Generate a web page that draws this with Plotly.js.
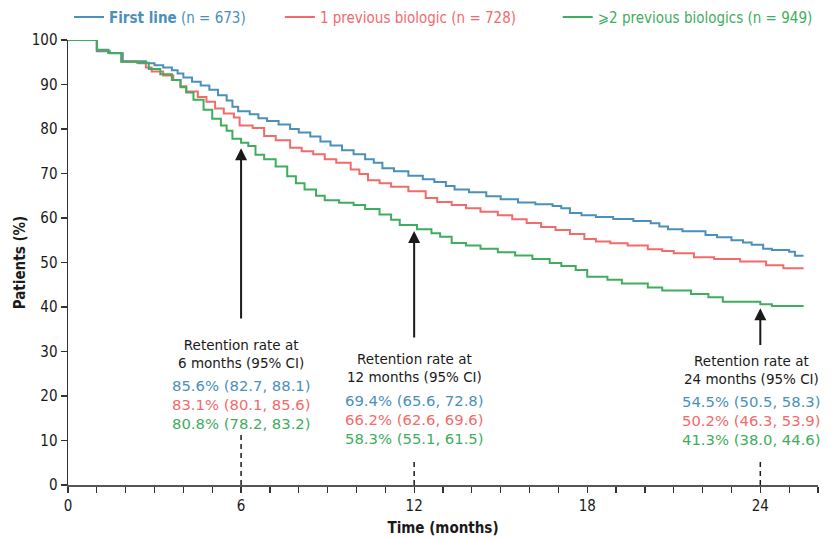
<!DOCTYPE html>
<html>
<head>
<meta charset="utf-8">
<script src="https://cdn.plot.ly/plotly-3.0.1.min.js"></script>
<style>html,body{margin:0;padding:0;background:#fff}#chart{width:840px;height:539px}</style>
</head>
<body>
<div id="chart"></div>
<script>
// Kaplan-Meier style retention curves (months, % retained)
const firstLineTime = [0,1.0,1.45,1.9,2.7,3.0,3.3,3.6,3.8,4.0,4.3,4.6,4.9,5.2,5.5,5.7,5.9,6.3,6.6,6.9,7.3,7.7,8.0,8.4,8.75,9.1,9.5,9.9,10.3,10.6,10.9,11.3,11.8,12.3,12.7,13.1,13.4,13.9,14.5,15.0,15.6,16.2,16.8,17.1,17.4,17.8,18.3,18.9,19.6,20.2,20.5,20.8,21.3,22.1,22.5,23.0,23.4,23.7,24.1,24.4,25.0,25.2,25.5];
const firstLineRate = [100,97.5,97.0,95.2,94.8,94.3,93.8,93.2,92.5,91.6,90.6,89.8,88.8,87.6,86.4,85.0,84.0,83.3,82.4,81.8,81.0,80.0,79.2,78.3,77.2,76.3,75.2,74.3,73.2,72.4,71.2,70.5,69.5,68.7,68.1,67.2,66.4,65.8,64.9,64.2,63.5,63.1,62.7,62.2,61.1,60.6,60.2,59.8,59.3,58.8,58.1,57.5,57.0,56.2,55.7,55.0,54.5,54.0,53.1,52.8,52.4,51.5,51.5];

const oneBioTime = [0,1.0,1.4,1.85,2.45,2.7,2.9,3.3,3.65,3.9,4.1,4.5,4.8,5.1,5.4,5.75,5.95,6.4,6.8,7.2,7.7,8.1,8.5,8.9,9.3,9.8,10.1,10.4,10.8,11.2,11.8,12.4,12.8,13.3,13.8,14.3,14.9,15.4,15.9,16.4,16.9,17.4,17.9,18.3,18.8,19.4,20.1,20.6,21.0,21.7,22.4,23.3,24.2,24.8,25.5];
const oneBioRate = [100,97.7,97.1,95.1,94.8,93.8,92.9,92.0,91.0,89.6,88.4,87.2,86.1,84.6,83.5,82.6,80.8,80.2,78.4,77.5,75.8,75.0,74.3,73.2,72.4,70.9,69.9,68.5,67.8,67.0,66.0,64.5,63.6,62.9,62.2,61.4,60.6,59.7,58.9,58.0,57.3,56.4,55.3,54.7,54.3,53.8,53.0,52.6,52.1,51.2,50.8,50.2,49.4,48.7,48.7];

const twoBioTime = [0,1.0,1.4,1.85,2.4,2.8,3.2,3.6,3.9,4.1,4.35,4.7,5.0,5.3,5.5,5.7,6.0,6.25,6.5,6.8,7.2,7.6,7.9,8.2,8.6,8.9,9.4,9.9,10.3,10.8,11.2,11.5,12.1,12.6,12.9,13.3,13.8,14.3,14.9,15.5,16.1,16.7,17.1,17.6,18.0,18.7,19.2,20.1,20.6,21.6,22.2,22.7,24.0,24.4,25.5];
const twoBioRate = [100,97.8,97.1,95.1,94.9,93.5,92.3,91.0,89.4,88.2,86.6,84.3,82.3,80.8,79.6,77.8,76.9,76.2,74.2,73.2,71.6,69.4,67.8,66.4,65.0,64.0,63.4,62.9,62.0,60.8,59.6,58.4,57.5,56.6,55.8,54.4,53.8,53.1,52.3,51.6,50.8,49.9,49.2,48.3,46.8,46.1,45.3,44.4,43.7,42.9,42.2,41.2,40.6,40.2,40.2];

const seriesLabels = ['<b>First line</b> (n = 673)', '1 previous biologic (n = 728)', '\u2a7e2 previous biologics (n = 949)'];
const seriesColors = ['#4a90bb', '#f36a6b', '#3fad5e'];

// Retention annotations
const milestoneMonths = [6, 12, 24];
const milestoneLabels = ['Retention rate at<br>6 months (95% CI)', 'Retention rate at<br>12 months (95% CI)', 'Retention rate at<br>24 months (95% CI)'];
const firstLineCI = ['85.6% (82.7, 88.1)', '69.4% (65.6, 72.8)', '54.5% (50.5, 58.3)'];
const oneBioCI = ['83.1% (80.1, 85.6)', '66.2% (62.6, 69.6)', '50.2% (46.3, 53.9)'];
const twoBioCI = ['80.8% (78.2, 83.2)', '58.3% (55.1, 61.5)', '41.3% (38.0, 44.6)'];

// layout placement of the annotation blocks (data units) and legend entries (paper units)
const labelX = [6, 12, 23.7];
const headerY = [29.4, 26.4, 25.75];
const ciY = [18.0, 14.8, 14.5];
const arrowTip = [75.7, 57.1, 39.7];
const arrowTail = [37.1, 32.8, 31.1];
const dashTop = [11.9, 5.3, 5.3];
const legendX = [0.0013, 0.2825, 0.653];
const legendIds = ['legend', 'legend2', 'legend3'];

const xTickVals = [0, 6, 12, 18, 24];
const xTickText = ['0', '6', '12', '18', '24'];

const narrow = '"DejaVu Sans Condensed", "Liberation Sans Narrow", sans-serif';
const human = '"DejaVu Sans", sans-serif';

const times = [firstLineTime, oneBioTime, twoBioTime];
const rates = [firstLineRate, oneBioRate, twoBioRate];

const traces = times.map((t, i) => ({
  x: t, y: rates[i], type: 'scatter', mode: 'lines',
  line: {shape: 'hv', color: seriesColors[i], width: 2},
  name: '<span style="color:' + seriesColors[i] + '">' + seriesLabels[i] + '</span>',
  legend: legendIds[i]
}));

const annotations = [];
const shapes = [];
milestoneMonths.forEach((m, i) => {
  annotations.push({x: labelX[i], y: headerY[i], xref: 'x', yref: 'y', text: milestoneLabels[i],
    showarrow: false, font: {family: human, size: 13.5, color: '#1a1a1a'}, align: 'center', yanchor: 'middle'});
  const ciText = '<span style="color:' + seriesColors[0] + '">' + firstLineCI[i] + '</span><br>' +
                 '<span style="color:' + seriesColors[1] + '">' + oneBioCI[i] + '</span><br>' +
                 '<span style="color:' + seriesColors[2] + '">' + twoBioCI[i] + '</span>';
  annotations.push({x: labelX[i], y: ciY[i], xref: 'x', yref: 'y', text: ciText,
    showarrow: false, font: {family: human, size: 14.8}, align: 'center', yanchor: 'middle'});
  annotations.push({x: m, y: arrowTip[i], xref: 'x', yref: 'y', ax: m, ay: arrowTail[i], axref: 'x', ayref: 'y',
    text: '', showarrow: true, arrowhead: 2, arrowsize: 1.2, arrowwidth: 2, arrowcolor: '#1a1a1a', standoff: 0});
  shapes.push({type: 'line', xref: 'x', yref: 'y', x0: m, x1: m, y0: 0, y1: dashTop[i],
    line: {color: '#1a1a1a', width: 1.5, dash: '5px,4px'}});
});

const layout = {
  width: 840, height: 539,
  margin: {l: 68, r: 22, t: 40, b: 54, autoexpand: false},
  paper_bgcolor: '#fff', plot_bgcolor: '#fff',
  showlegend: true,
  xaxis: {range: [0, 26], tickvals: xTickVals, ticktext: xTickText, ticks: 'outside', ticklen: 6, tickwidth: 1.2, tickcolor: '#333',
    minor: {dtick: 1, ticks: 'outside', ticklen: 6, tickwidth: 1.2, tickcolor: '#333', showgrid: false},
    showline: true, linecolor: '#555', linewidth: 2, showgrid: false, zeroline: false,
    tickfont: {family: narrow, size: 15, color: '#1a1a1a'},
    title: {text: '<b>Time (months)</b>', font: {family: narrow, size: 15, color: '#1a1a1a'}, standoff: 8}},
  yaxis: {range: [0, 100], dtick: 10, ticks: 'outside', ticklen: 6, tickwidth: 1.2, tickcolor: '#333',
    showline: true, linecolor: '#333', linewidth: 1.5, showgrid: false, zeroline: false,
    tickfont: {family: narrow, size: 15, color: '#1a1a1a'},
    title: {text: '<b>Patients (%)</b>', font: {family: narrow, size: 15, color: '#1a1a1a'}, standoff: 2}},
  annotations: annotations,
  shapes: shapes
};
legendIds.forEach((id, i) => {
  layout[id] = {orientation: 'h', x: legendX[i], xanchor: 'left', yref: 'container', y: 0.968, yanchor: 'middle',
    font: {family: narrow, size: 15}, bgcolor: 'rgba(0,0,0,0)'};
});

Plotly.newPlot('chart', traces, layout, {displayModeBar: false, staticPlot: true});
</script>
</body>
</html>
